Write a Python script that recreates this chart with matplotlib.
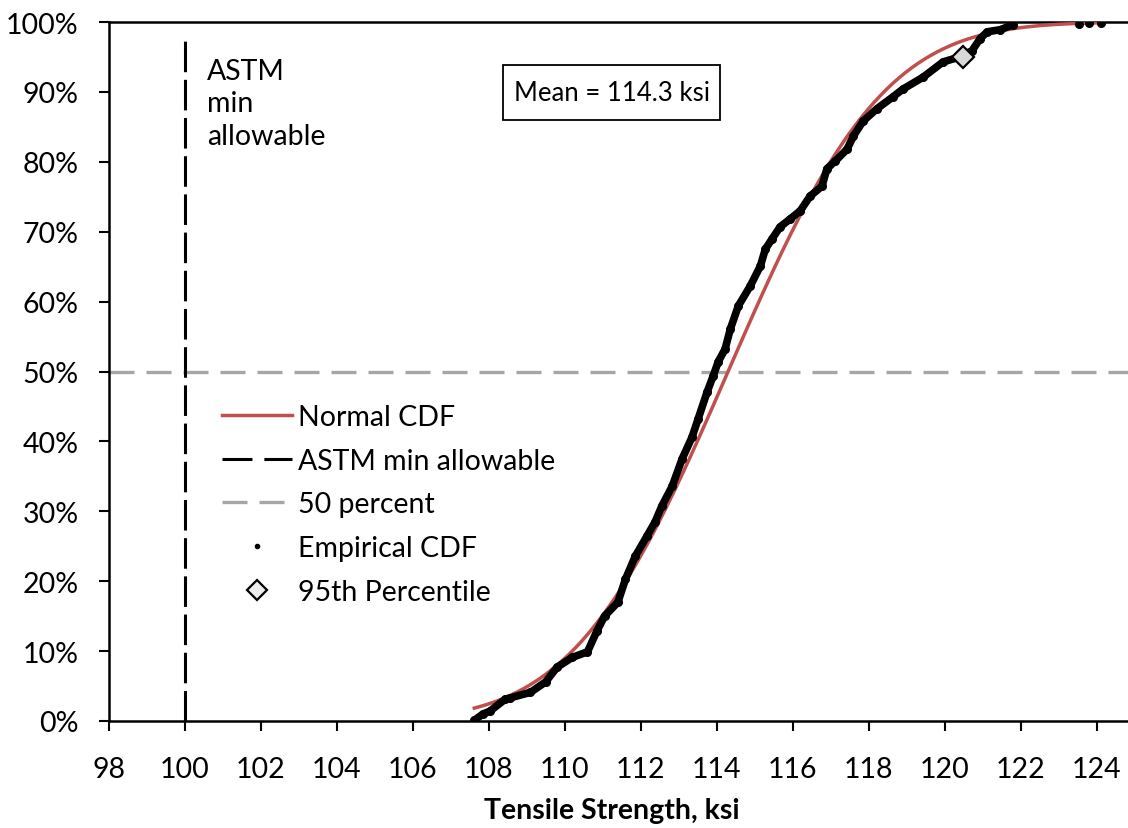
import math
import numpy as np
import matplotlib
matplotlib.use("Agg")
import matplotlib.pyplot as plt
from matplotlib.lines import Line2D
from matplotlib.patches import Rectangle
from matplotlib.ticker import PercentFormatter

plt.rcParams['font.family'] = ['Lato', 'DejaVu Sans']
FS = 20.5

# Empirical CDF of tensile strength (ksi, cumulative fraction)
ecdf_ksi = [107.62, 107.85, 108.03, 108.43, 108.56, 109.10, 109.50, 109.80, 110.20, 110.60,
            110.85, 111.05, 111.40, 111.60, 111.86, 112.17, 112.38, 112.56, 112.83, 113.09,
            113.35, 113.51, 113.75, 113.91, 114.04, 114.22, 114.36, 114.57, 114.88, 115.15,
            115.28, 115.46, 115.67, 115.93, 116.20, 116.46, 116.77, 116.90, 117.12, 117.43,
            117.60, 117.85, 118.22, 118.64, 118.90, 119.43, 119.96, 120.40, 120.72, 120.93,
            121.12, 121.46, 121.80, 123.54, 123.80, 124.10]
ecdf_frac = [0.001, 0.010, 0.014, 0.031, 0.033, 0.041, 0.056, 0.077, 0.091, 0.099,
             0.129, 0.150, 0.170, 0.203, 0.236, 0.265, 0.285, 0.308, 0.336, 0.375,
             0.406, 0.432, 0.471, 0.494, 0.514, 0.532, 0.561, 0.594, 0.622, 0.651,
             0.675, 0.690, 0.707, 0.718, 0.730, 0.751, 0.765, 0.790, 0.801, 0.818,
             0.837, 0.858, 0.876, 0.893, 0.904, 0.921, 0.943, 0.950, 0.959, 0.976,
             0.986, 0.989, 0.996, 0.997, 0.998, 0.999]

# Fitted normal distribution
mean_ksi = 114.3
sd_ksi = 3.2
astm_min = 100.0
p95_ksi, p95_frac = 120.47, 0.95

x_ticks = list(range(98, 125, 2))

xs = np.linspace(min(ecdf_ksi), max(ecdf_ksi), 300)
normal_cdf = [0.5 * (1 + math.erf((x - mean_ksi) / (sd_ksi * math.sqrt(2)))) for x in xs]

fig = plt.figure(figsize=(11.28, 8.29), dpi=100)
ax = fig.add_axes([108.7 / 1128, 107 / 829, 1 - 108.7 / 1128, 699 / 829])

red = '#C0504D'
grey = '#A6A6A6'

ax.axhline(0.5, color=grey, lw=2.4, dashes=(7.5, 3.6), zorder=1)
ax.plot([astm_min, astm_min], [0, 0.983], color='black', lw=2.2, dashes=(10, 2.5), zorder=2)
ax.plot(xs, normal_cdf, color=red, lw=2.5, zorder=3)
ax.plot(ecdf_ksi[:-3], ecdf_frac[:-3], color='black', lw=5.5, solid_capstyle='round',
        solid_joinstyle='round', zorder=4)
ax.plot(ecdf_ksi, ecdf_frac, 'o', color='black', ms=5.5, zorder=4)
ax.plot([p95_ksi], [p95_frac], 'D', ms=11.5, mfc='#D9D9D9', mec='black', mew=1.6, zorder=5)

ax.set_xlim(98, 98 + (1128 - 108.7) / 38)
ax.set_ylim(0, 1)
ax.set_xticks(x_ticks)
ax.set_yticks(np.arange(0, 1.01, 0.1))
ax.yaxis.set_major_formatter(PercentFormatter(1.0, decimals=0))
ax.tick_params(direction='out', length=7.5, width=1.5, labelsize=FS)
ax.tick_params(axis='x', pad=18)
ax.tick_params(axis='y', pad=14)
for side in ['left', 'bottom', 'top']:
    ax.spines[side].set_linewidth(1.8)
ax.spines['right'].set_visible(False)

ax.set_xlabel('Tensile Strength, ksi', fontsize=FS, fontweight='bold')
ax.xaxis.set_label_coords((612 - 108.7) / (1128 - 108.7), -0.109)

ax.text(100.59, 0.949, 'ASTM\nmin\nallowable', fontsize=FS, va='top', ha='left',
        linespacing=1.32)

# mean annotation box
ax.add_patch(Rectangle((0.3868, 0.8598), 0.2129, 0.0787, transform=ax.transAxes,
                       fc='white', ec='black', lw=1.3, zorder=6))
ax.text(0.4933, 0.899, 'Mean = 114.3 ksi', fontsize=18.5, va='center', ha='center',
        transform=ax.transAxes, zorder=7)

handles = [
    Line2D([], [], color=red, lw=2.5),
    Line2D([], [], color='black', lw=2.2, dashes=(9.8, 3.9)),
    Line2D([], [], color=grey, lw=2.4, dashes=(7.5, 3.6)),
    Line2D([], [], ls='none', marker='o', color='black', ms=3),
    Line2D([], [], ls='none', marker='D', ms=10.5, mfc='#EDEDED', mec='black', mew=1.6),
]
labels = ['Normal CDF', 'ASTM min allowable', '50 percent', 'Empirical CDF', '95th Percentile']
ax.legend(handles, labels, loc='upper left', bbox_to_anchor=(0.111, 0.4535), frameon=False,
          fontsize=FS, handlelength=2.46, handletextpad=0.21, labelspacing=0.62,
          borderpad=0, borderaxespad=0)

fig.savefig('out.png', dpi=100)
